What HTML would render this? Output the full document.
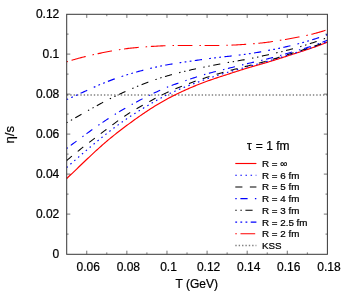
<!DOCTYPE html>
<html><head><meta charset="utf-8"><title>plot</title>
<style>
html,body{margin:0;padding:0;background:#fff;}
body{width:349px;height:293px;overflow:hidden;}
svg{display:block;will-change:transform;}
text{font-family:"Liberation Sans",sans-serif;fill:#000;stroke:#000;stroke-width:0.22px;}
</style></head><body>
<svg width="349" height="293" viewBox="0 0 349 293">
<rect width="349" height="293" fill="#fff"/>
<line x1="66.70" y1="94.95" x2="327.40" y2="94.95" stroke="#808080" stroke-width="1.5" stroke-dasharray="1.4 1.97" stroke-dashoffset="-0.15"/>
<g fill="none" stroke-linejoin="round">
<polyline points="66.70,178.50 68.01,177.27 69.32,176.03 70.63,174.79 71.94,173.55 73.25,172.30 74.56,171.05 75.87,169.80 77.18,168.54 78.49,167.29 79.80,166.03 81.11,164.78 82.42,163.53 83.73,162.28 85.04,161.03 86.35,159.78 87.66,158.54 88.97,157.30 90.28,156.07 91.59,154.84 92.90,153.62 94.21,152.41 95.52,151.20 96.83,150.00 98.14,148.81 99.45,147.63 100.76,146.46 102.07,145.30 103.38,144.15 104.69,143.01 106.00,141.89 107.31,140.77 108.62,139.67 109.93,138.59 111.24,137.51 112.55,136.45 113.86,135.39 115.17,134.35 116.48,133.32 117.79,132.29 119.10,131.28 120.41,130.27 121.72,129.27 123.03,128.27 124.34,127.28 125.65,126.30 126.96,125.32 128.27,124.35 129.58,123.38 130.89,122.42 132.20,121.47 133.51,120.51 134.82,119.57 136.13,118.63 137.44,117.70 138.75,116.78 140.06,115.86 141.37,114.95 142.68,114.05 143.99,113.16 145.30,112.27 146.61,111.40 147.92,110.54 149.23,109.68 150.54,108.84 151.85,108.00 153.16,107.18 154.47,106.36 155.78,105.56 157.09,104.76 158.40,103.98 159.71,103.20 161.02,102.44 162.33,101.68 163.64,100.94 164.95,100.21 166.26,99.48 167.57,98.77 168.88,98.07 170.19,97.38 171.50,96.70 172.81,96.03 174.12,95.37 175.43,94.72 176.74,94.07 178.05,93.44 179.36,92.81 180.67,92.19 181.98,91.58 183.29,90.98 184.60,90.38 185.91,89.79 187.22,89.21 188.53,88.63 189.84,88.06 191.15,87.50 192.46,86.94 193.77,86.39 195.08,85.85 196.39,85.31 197.71,84.78 199.02,84.26 200.33,83.74 201.64,83.23 202.95,82.73 204.26,82.24 205.57,81.75 206.88,81.27 208.19,80.80 209.50,80.34 210.81,79.88 212.12,79.43 213.43,78.98 214.74,78.54 216.05,78.11 217.36,77.67 218.67,77.24 219.98,76.82 221.29,76.39 222.60,75.97 223.91,75.54 225.22,75.12 226.53,74.70 227.84,74.27 229.15,73.85 230.46,73.42 231.77,72.99 233.08,72.56 234.39,72.14 235.70,71.71 237.01,71.29 238.32,70.87 239.63,70.45 240.94,70.03 242.25,69.62 243.56,69.21 244.87,68.81 246.18,68.40 247.49,68.01 248.80,67.62 250.11,67.23 251.42,66.85 252.73,66.47 254.04,66.10 255.35,65.72 256.66,65.35 257.97,64.98 259.28,64.60 260.59,64.23 261.90,63.86 263.21,63.48 264.52,63.10 265.83,62.72 267.14,62.33 268.45,61.94 269.76,61.54 271.07,61.14 272.38,60.74 273.69,60.33 275.00,59.92 276.31,59.51 277.62,59.10 278.93,58.68 280.24,58.26 281.55,57.84 282.86,57.42 284.17,57.00 285.48,56.58 286.79,56.16 288.10,55.74 289.41,55.32 290.72,54.91 292.03,54.49 293.34,54.07 294.65,53.65 295.96,53.23 297.27,52.81 298.58,52.39 299.89,51.96 301.20,51.54 302.51,51.11 303.82,50.68 305.13,50.24 306.44,49.81 307.75,49.36 309.06,48.92 310.37,48.47 311.68,48.02 312.99,47.56 314.30,47.09 315.61,46.62 316.92,46.15 318.23,45.67 319.54,45.18 320.85,44.68 322.16,44.18 323.47,43.67 324.78,43.16 326.09,42.63 327.40,42.10" stroke="#ff0000" stroke-width="1.15"/>
<polyline points="66.70,167.50 68.01,166.35 69.32,165.20 70.63,164.05 71.94,162.90 73.25,161.76 74.56,160.61 75.87,159.47 77.18,158.32 78.49,157.18 79.80,156.04 81.11,154.91 82.42,153.77 83.73,152.64 85.04,151.52 86.35,150.39 87.66,149.28 88.97,148.16 90.28,147.05 91.59,145.94 92.90,144.84 94.21,143.74 95.52,142.65 96.83,141.57 98.14,140.48 99.45,139.41 100.76,138.34 102.07,137.28 103.38,136.23 104.69,135.18 106.00,134.14 107.31,133.10 108.62,132.08 109.93,131.06 111.24,130.05 112.55,129.05 113.86,128.06 115.17,127.07 116.48,126.10 117.79,125.13 119.10,124.17 120.41,123.22 121.72,122.29 123.03,121.36 124.34,120.44 125.65,119.53 126.96,118.63 128.27,117.74 129.58,116.86 130.89,116.00 132.20,115.14 133.51,114.29 134.82,113.44 136.13,112.61 137.44,111.78 138.75,110.97 140.06,110.15 141.37,109.35 142.68,108.55 143.99,107.75 145.30,106.96 146.61,106.18 147.92,105.40 149.23,104.63 150.54,103.86 151.85,103.09 153.16,102.34 154.47,101.59 155.78,100.84 157.09,100.11 158.40,99.39 159.71,98.67 161.02,97.96 162.33,97.27 163.64,96.58 164.95,95.91 166.26,95.25 167.57,94.60 168.88,93.97 170.19,93.34 171.50,92.73 172.81,92.13 174.12,91.54 175.43,90.96 176.74,90.40 178.05,89.83 179.36,89.28 180.67,88.74 181.98,88.20 183.29,87.67 184.60,87.15 185.91,86.63 187.22,86.12 188.53,85.61 189.84,85.11 191.15,84.62 192.46,84.12 193.77,83.64 195.08,83.15 196.39,82.67 197.71,82.20 199.02,81.72 200.33,81.26 201.64,80.79 202.95,80.33 204.26,79.87 205.57,79.42 206.88,78.97 208.19,78.52 209.50,78.08 210.81,77.64 212.12,77.20 213.43,76.76 214.74,76.33 216.05,75.90 217.36,75.48 218.67,75.06 219.98,74.64 221.29,74.23 222.60,73.83 223.91,73.42 225.22,73.02 226.53,72.63 227.84,72.24 229.15,71.86 230.46,71.48 231.77,71.10 233.08,70.73 234.39,70.36 235.70,69.99 237.01,69.63 238.32,69.26 239.63,68.90 240.94,68.55 242.25,68.19 243.56,67.83 244.87,67.48 246.18,67.12 247.49,66.77 248.80,66.41 250.11,66.06 251.42,65.70 252.73,65.35 254.04,64.99 255.35,64.63 256.66,64.27 257.97,63.91 259.28,63.55 260.59,63.18 261.90,62.82 263.21,62.45 264.52,62.08 265.83,61.70 267.14,61.33 268.45,60.95 269.76,60.57 271.07,60.19 272.38,59.80 273.69,59.41 275.00,59.03 276.31,58.63 277.62,58.24 278.93,57.85 280.24,57.45 281.55,57.05 282.86,56.65 284.17,56.26 285.48,55.86 286.79,55.45 288.10,55.05 289.41,54.65 290.72,54.25 292.03,53.84 293.34,53.44 294.65,53.03 295.96,52.62 297.27,52.21 298.58,51.80 299.89,51.38 301.20,50.96 302.51,50.54 303.82,50.11 305.13,49.69 306.44,49.25 307.75,48.82 309.06,48.37 310.37,47.93 311.68,47.48 312.99,47.02 314.30,46.56 315.61,46.09 316.92,45.62 318.23,45.14 319.54,44.66 320.85,44.16 322.16,43.67 323.47,43.16 324.78,42.65 326.09,42.13 327.40,41.60" stroke="#0000ff" stroke-width="1.15" stroke-dasharray="1.5 3.59" stroke-dashoffset="0.1"/>
<polyline points="66.70,160.50 68.01,159.39 69.32,158.29 70.63,157.19 71.94,156.11 73.25,155.03 74.56,153.96 75.87,152.90 77.18,151.84 78.49,150.79 79.80,149.75 81.11,148.71 82.42,147.68 83.73,146.65 85.04,145.63 86.35,144.61 87.66,143.60 88.97,142.59 90.28,141.59 91.59,140.58 92.90,139.59 94.21,138.59 95.52,137.60 96.83,136.61 98.14,135.62 99.45,134.63 100.76,133.64 102.07,132.66 103.38,131.67 104.69,130.69 106.00,129.71 107.31,128.72 108.62,127.74 109.93,126.75 111.24,125.77 112.55,124.79 113.86,123.82 115.17,122.85 116.48,121.89 117.79,120.94 119.10,119.99 120.41,119.06 121.72,118.14 123.03,117.23 124.34,116.33 125.65,115.45 126.96,114.58 128.27,113.73 129.58,112.90 130.89,112.08 132.20,111.28 133.51,110.49 134.82,109.71 136.13,108.94 137.44,108.18 138.75,107.43 140.06,106.69 141.37,105.95 142.68,105.22 143.99,104.50 145.30,103.78 146.61,103.06 147.92,102.35 149.23,101.64 150.54,100.93 151.85,100.23 153.16,99.53 154.47,98.83 155.78,98.14 157.09,97.46 158.40,96.78 159.71,96.11 161.02,95.44 162.33,94.79 163.64,94.14 164.95,93.51 166.26,92.88 167.57,92.27 168.88,91.66 170.19,91.07 171.50,90.49 172.81,89.91 174.12,89.35 175.43,88.79 176.74,88.24 178.05,87.70 179.36,87.17 180.67,86.65 181.98,86.13 183.29,85.62 184.60,85.12 185.91,84.62 187.22,84.12 188.53,83.64 189.84,83.15 191.15,82.68 192.46,82.20 193.77,81.73 195.08,81.27 196.39,80.81 197.71,80.36 199.02,79.91 200.33,79.47 201.64,79.03 202.95,78.59 204.26,78.16 205.57,77.74 206.88,77.31 208.19,76.90 209.50,76.48 210.81,76.08 212.12,75.67 213.43,75.27 214.74,74.87 216.05,74.48 217.36,74.09 218.67,73.71 219.98,73.33 221.29,72.95 222.60,72.57 223.91,72.20 225.22,71.83 226.53,71.47 227.84,71.11 229.15,70.75 230.46,70.39 231.77,70.03 233.08,69.68 234.39,69.33 235.70,68.99 237.01,68.64 238.32,68.30 239.63,67.96 240.94,67.63 242.25,67.29 243.56,66.96 244.87,66.63 246.18,66.30 247.49,65.97 248.80,65.65 250.11,65.33 251.42,65.00 252.73,64.68 254.04,64.36 255.35,64.03 256.66,63.70 257.97,63.37 259.28,63.04 260.59,62.70 261.90,62.36 263.21,62.01 264.52,61.66 265.83,61.30 267.14,60.93 268.45,60.55 269.76,60.17 271.07,59.78 272.38,59.39 273.69,58.99 275.00,58.58 276.31,58.18 277.62,57.76 278.93,57.35 280.24,56.94 281.55,56.52 282.86,56.10 284.17,55.69 285.48,55.27 286.79,54.86 288.10,54.45 289.41,54.04 290.72,53.63 292.03,53.23 293.34,52.82 294.65,52.42 295.96,52.02 297.27,51.62 298.58,51.21 299.89,50.81 301.20,50.40 302.51,49.99 303.82,49.58 305.13,49.16 306.44,48.74 307.75,48.32 309.06,47.89 310.37,47.46 311.68,47.02 312.99,46.58 314.30,46.12 315.61,45.67 316.92,45.20 318.23,44.73 319.54,44.24 320.85,43.75 322.16,43.25 323.47,42.74 324.78,42.22 326.09,41.69 327.40,41.15" stroke="#000000" stroke-width="1.05" stroke-dasharray="7.1 7.46" stroke-dashoffset="0.3"/>
<polyline points="66.70,148.50 68.01,147.51 69.32,146.52 70.63,145.53 71.94,144.54 73.25,143.56 74.56,142.57 75.87,141.59 77.18,140.61 78.49,139.64 79.80,138.66 81.11,137.69 82.42,136.72 83.73,135.76 85.04,134.80 86.35,133.84 87.66,132.89 88.97,131.94 90.28,131.00 91.59,130.06 92.90,129.13 94.21,128.20 95.52,127.28 96.83,126.36 98.14,125.45 99.45,124.55 100.76,123.65 102.07,122.76 103.38,121.88 104.69,121.00 106.00,120.13 107.31,119.27 108.62,118.42 109.93,117.57 111.24,116.73 112.55,115.90 113.86,115.08 115.17,114.26 116.48,113.46 117.79,112.65 119.10,111.86 120.41,111.07 121.72,110.29 123.03,109.52 124.34,108.75 125.65,108.00 126.96,107.24 128.27,106.50 129.58,105.76 130.89,105.02 132.20,104.30 133.51,103.58 134.82,102.86 136.13,102.15 137.44,101.45 138.75,100.75 140.06,100.06 141.37,99.38 142.68,98.70 143.99,98.03 145.30,97.36 146.61,96.70 147.92,96.05 149.23,95.40 150.54,94.75 151.85,94.12 153.16,93.49 154.47,92.86 155.78,92.25 157.09,91.64 158.40,91.04 159.71,90.45 161.02,89.87 162.33,89.30 163.64,88.73 164.95,88.18 166.26,87.64 167.57,87.11 168.88,86.58 170.19,86.07 171.50,85.57 172.81,85.07 174.12,84.59 175.43,84.11 176.74,83.64 178.05,83.17 179.36,82.71 180.67,82.25 181.98,81.80 183.29,81.36 184.60,80.91 185.91,80.47 187.22,80.03 188.53,79.60 189.84,79.16 191.15,78.73 192.46,78.30 193.77,77.87 195.08,77.45 196.39,77.03 197.71,76.61 199.02,76.20 200.33,75.80 201.64,75.40 202.95,75.00 204.26,74.61 205.57,74.23 206.88,73.86 208.19,73.49 209.50,73.13 210.81,72.77 212.12,72.42 213.43,72.08 214.74,71.74 216.05,71.41 217.36,71.07 218.67,70.74 219.98,70.42 221.29,70.09 222.60,69.77 223.91,69.45 225.22,69.12 226.53,68.80 227.84,68.48 229.15,68.15 230.46,67.82 231.77,67.50 233.08,67.17 234.39,66.84 235.70,66.51 237.01,66.19 238.32,65.86 239.63,65.54 240.94,65.21 242.25,64.89 243.56,64.57 244.87,64.25 246.18,63.94 247.49,63.63 248.80,63.32 250.11,63.01 251.42,62.71 252.73,62.41 254.04,62.10 255.35,61.80 256.66,61.50 257.97,61.19 259.28,60.89 260.59,60.58 261.90,60.27 263.21,59.95 264.52,59.63 265.83,59.31 267.14,58.98 268.45,58.64 269.76,58.30 271.07,57.95 272.38,57.60 273.69,57.24 275.00,56.88 276.31,56.52 277.62,56.15 278.93,55.79 280.24,55.41 281.55,55.04 282.86,54.67 284.17,54.29 285.48,53.92 286.79,53.54 288.10,53.17 289.41,52.80 290.72,52.42 292.03,52.05 293.34,51.67 294.65,51.30 295.96,50.92 297.27,50.54 298.58,50.16 299.89,49.77 301.20,49.38 302.51,48.99 303.82,48.59 305.13,48.19 306.44,47.78 307.75,47.37 309.06,46.95 310.37,46.53 311.68,46.10 312.99,45.66 314.30,45.22 315.61,44.76 316.92,44.30 318.23,43.83 319.54,43.35 320.85,42.86 322.16,42.36 323.47,41.85 324.78,41.33 326.09,40.79 327.40,40.25" stroke="#0000ff" stroke-width="1.1" stroke-dasharray="1.4 3.7 7.2 7.32" stroke-dashoffset="0"/>
<polyline points="66.70,122.70 68.01,121.96 69.32,121.22 70.63,120.48 71.94,119.74 73.25,118.99 74.56,118.24 75.87,117.50 77.18,116.75 78.49,116.00 79.80,115.25 81.11,114.51 82.42,113.76 83.73,113.01 85.04,112.27 86.35,111.53 87.66,110.79 88.97,110.05 90.28,109.31 91.59,108.58 92.90,107.85 94.21,107.13 95.52,106.41 96.83,105.69 98.14,104.98 99.45,104.27 100.76,103.57 102.07,102.87 103.38,102.18 104.69,101.49 106.00,100.81 107.31,100.14 108.62,99.48 109.93,98.82 111.24,98.17 112.55,97.52 113.86,96.88 115.17,96.25 116.48,95.62 117.79,95.00 119.10,94.39 120.41,93.78 121.72,93.17 123.03,92.57 124.34,91.98 125.65,91.39 126.96,90.81 128.27,90.23 129.58,89.65 130.89,89.08 132.20,88.52 133.51,87.96 134.82,87.41 136.13,86.86 137.44,86.32 138.75,85.79 140.06,85.26 141.37,84.73 142.68,84.22 143.99,83.71 145.30,83.21 146.61,82.71 147.92,82.23 149.23,81.75 150.54,81.27 151.85,80.81 153.16,80.35 154.47,79.90 155.78,79.45 157.09,79.02 158.40,78.59 159.71,78.16 161.02,77.75 162.33,77.34 163.64,76.94 164.95,76.54 166.26,76.16 167.57,75.78 168.88,75.40 170.19,75.03 171.50,74.67 172.81,74.32 174.12,73.97 175.43,73.63 176.74,73.29 178.05,72.96 179.36,72.63 180.67,72.31 181.98,71.99 183.29,71.67 184.60,71.36 185.91,71.06 187.22,70.75 188.53,70.45 189.84,70.16 191.15,69.86 192.46,69.57 193.77,69.29 195.08,69.00 196.39,68.72 197.71,68.44 199.02,68.16 200.33,67.89 201.64,67.61 202.95,67.34 204.26,67.07 205.57,66.81 206.88,66.54 208.19,66.28 209.50,66.02 210.81,65.76 212.12,65.50 213.43,65.24 214.74,64.99 216.05,64.74 217.36,64.49 218.67,64.24 219.98,63.99 221.29,63.75 222.60,63.51 223.91,63.27 225.22,63.04 226.53,62.81 227.84,62.58 229.15,62.35 230.46,62.13 231.77,61.90 233.08,61.68 234.39,61.46 235.70,61.24 237.01,61.01 238.32,60.79 239.63,60.56 240.94,60.34 242.25,60.10 243.56,59.87 244.87,59.63 246.18,59.39 247.49,59.14 248.80,58.89 250.11,58.63 251.42,58.37 252.73,58.10 254.04,57.83 255.35,57.56 256.66,57.28 257.97,57.00 259.28,56.72 260.59,56.43 261.90,56.14 263.21,55.85 264.52,55.56 265.83,55.27 267.14,54.97 268.45,54.68 269.76,54.38 271.07,54.09 272.38,53.79 273.69,53.49 275.00,53.19 276.31,52.88 277.62,52.58 278.93,52.27 280.24,51.95 281.55,51.64 282.86,51.32 284.17,50.99 285.48,50.66 286.79,50.33 288.10,49.99 289.41,49.65 290.72,49.30 292.03,48.95 293.34,48.59 294.65,48.22 295.96,47.86 297.27,47.48 298.58,47.10 299.89,46.72 301.20,46.33 302.51,45.94 303.82,45.54 305.13,45.14 306.44,44.73 307.75,44.32 309.06,43.91 310.37,43.49 311.68,43.06 312.99,42.63 314.30,42.19 315.61,41.76 316.92,41.31 318.23,40.86 319.54,40.41 320.85,39.95 322.16,39.49 323.47,39.02 324.78,38.55 326.09,38.08 327.40,37.60" stroke="#000000" stroke-width="1.05" stroke-dasharray="1.4 3.7 1.4 3.6 7.2 7.47" stroke-dashoffset="0.3"/>
<polyline points="66.70,99.55 68.01,98.99 69.32,98.41 70.63,97.84 71.94,97.26 73.25,96.67 74.56,96.08 75.87,95.49 77.18,94.89 78.49,94.29 79.80,93.69 81.11,93.09 82.42,92.49 83.73,91.89 85.04,91.29 86.35,90.68 87.66,90.08 88.97,89.49 90.28,88.89 91.59,88.30 92.90,87.71 94.21,87.12 95.52,86.54 96.83,85.97 98.14,85.40 99.45,84.83 100.76,84.27 102.07,83.72 103.38,83.18 104.69,82.65 106.00,82.12 107.31,81.60 108.62,81.09 109.93,80.60 111.24,80.11 112.55,79.63 113.86,79.15 115.17,78.69 116.48,78.23 117.79,77.78 119.10,77.34 120.41,76.90 121.72,76.48 123.03,76.05 124.34,75.64 125.65,75.22 126.96,74.82 128.27,74.42 129.58,74.02 130.89,73.63 132.20,73.25 133.51,72.87 134.82,72.49 136.13,72.12 137.44,71.75 138.75,71.39 140.06,71.04 141.37,70.68 142.68,70.34 143.99,70.00 145.30,69.66 146.61,69.33 147.92,69.00 149.23,68.68 150.54,68.36 151.85,68.04 153.16,67.74 154.47,67.43 155.78,67.14 157.09,66.85 158.40,66.56 159.71,66.28 161.02,66.01 162.33,65.74 163.64,65.48 164.95,65.23 166.26,64.98 167.57,64.74 168.88,64.51 170.19,64.28 171.50,64.06 172.81,63.84 174.12,63.63 175.43,63.42 176.74,63.22 178.05,63.02 179.36,62.82 180.67,62.63 181.98,62.43 183.29,62.24 184.60,62.05 185.91,61.86 187.22,61.67 188.53,61.48 189.84,61.29 191.15,61.10 192.46,60.91 193.77,60.71 195.08,60.52 196.39,60.33 197.71,60.15 199.02,59.96 200.33,59.77 201.64,59.59 202.95,59.41 204.26,59.23 205.57,59.05 206.88,58.88 208.19,58.71 209.50,58.54 210.81,58.37 212.12,58.21 213.43,58.05 214.74,57.89 216.05,57.73 217.36,57.57 218.67,57.42 219.98,57.27 221.29,57.12 222.60,56.97 223.91,56.82 225.22,56.67 226.53,56.52 227.84,56.37 229.15,56.22 230.46,56.07 231.77,55.93 233.08,55.78 234.39,55.62 235.70,55.47 237.01,55.32 238.32,55.16 239.63,55.00 240.94,54.83 242.25,54.67 243.56,54.50 244.87,54.32 246.18,54.14 247.49,53.96 248.80,53.77 250.11,53.57 251.42,53.37 252.73,53.17 254.04,52.96 255.35,52.75 256.66,52.53 257.97,52.31 259.28,52.09 260.59,51.86 261.90,51.63 263.21,51.39 264.52,51.15 265.83,50.91 267.14,50.67 268.45,50.42 269.76,50.17 271.07,49.92 272.38,49.67 273.69,49.41 275.00,49.15 276.31,48.88 277.62,48.61 278.93,48.34 280.24,48.06 281.55,47.78 282.86,47.50 284.17,47.21 285.48,46.91 286.79,46.62 288.10,46.31 289.41,46.00 290.72,45.69 292.03,45.37 293.34,45.05 294.65,44.72 295.96,44.38 297.27,44.05 298.58,43.70 299.89,43.35 301.20,42.99 302.51,42.63 303.82,42.27 305.13,41.89 306.44,41.52 307.75,41.13 309.06,40.74 310.37,40.35 311.68,39.94 312.99,39.54 314.30,39.12 315.61,38.70 316.92,38.28 318.23,37.85 319.54,37.41 320.85,36.97 322.16,36.52 323.47,36.06 324.78,35.60 326.09,35.13 327.40,34.65" stroke="#0000ff" stroke-width="1.15" stroke-dasharray="1.8 3.3 1.8 3.3 1.8 3.4 7.3 7.15" stroke-dashoffset="0.2"/>
<polyline points="66.70,61.85 68.01,61.43 69.32,61.01 70.63,60.61 71.94,60.21 73.25,59.82 74.56,59.43 75.87,59.06 77.18,58.69 78.49,58.33 79.80,57.97 81.11,57.62 82.42,57.28 83.73,56.95 85.04,56.62 86.35,56.30 87.66,55.98 88.97,55.67 90.28,55.36 91.59,55.06 92.90,54.77 94.21,54.48 95.52,54.19 96.83,53.91 98.14,53.64 99.45,53.36 100.76,53.09 102.07,52.83 103.38,52.57 104.69,52.31 106.00,52.06 107.31,51.80 108.62,51.56 109.93,51.31 111.24,51.07 112.55,50.83 113.86,50.60 115.17,50.37 116.48,50.15 117.79,49.93 119.10,49.72 120.41,49.51 121.72,49.31 123.03,49.12 124.34,48.94 125.65,48.76 126.96,48.59 128.27,48.42 129.58,48.27 130.89,48.12 132.20,47.98 133.51,47.85 134.82,47.72 136.13,47.60 137.44,47.48 138.75,47.37 140.06,47.26 141.37,47.16 142.68,47.06 143.99,46.96 145.30,46.86 146.61,46.77 147.92,46.68 149.23,46.59 150.54,46.51 151.85,46.42 153.16,46.34 154.47,46.26 155.78,46.19 157.09,46.12 158.40,46.05 159.71,45.98 161.02,45.92 162.33,45.87 163.64,45.81 164.95,45.76 166.26,45.72 167.57,45.68 168.88,45.65 170.19,45.62 171.50,45.59 172.81,45.57 174.12,45.56 175.43,45.54 176.74,45.53 178.05,45.52 179.36,45.51 180.67,45.51 181.98,45.50 183.29,45.50 184.60,45.50 185.91,45.50 187.22,45.50 188.53,45.50 189.84,45.50 191.15,45.50 192.46,45.50 193.77,45.50 195.08,45.50 196.39,45.50 197.71,45.50 199.02,45.50 200.33,45.50 201.64,45.50 202.95,45.50 204.26,45.50 205.57,45.50 206.88,45.50 208.19,45.50 209.50,45.50 210.81,45.50 212.12,45.50 213.43,45.50 214.74,45.49 216.05,45.48 217.36,45.48 218.67,45.46 219.98,45.45 221.29,45.43 222.60,45.41 223.91,45.38 225.22,45.35 226.53,45.32 227.84,45.28 229.15,45.23 230.46,45.18 231.77,45.13 233.08,45.07 234.39,45.00 235.70,44.94 237.01,44.86 238.32,44.79 239.63,44.71 240.94,44.63 242.25,44.54 243.56,44.45 244.87,44.36 246.18,44.27 247.49,44.18 248.80,44.08 250.11,43.98 251.42,43.88 252.73,43.78 254.04,43.67 255.35,43.56 256.66,43.44 257.97,43.32 259.28,43.20 260.59,43.06 261.90,42.93 263.21,42.78 264.52,42.63 265.83,42.48 267.14,42.31 268.45,42.14 269.76,41.96 271.07,41.78 272.38,41.58 273.69,41.39 275.00,41.18 276.31,40.97 277.62,40.76 278.93,40.54 280.24,40.32 281.55,40.10 282.86,39.88 284.17,39.65 285.48,39.42 286.79,39.19 288.10,38.96 289.41,38.73 290.72,38.49 292.03,38.26 293.34,38.03 294.65,37.79 295.96,37.55 297.27,37.30 298.58,37.05 299.89,36.80 301.20,36.54 302.51,36.28 303.82,36.01 305.13,35.73 306.44,35.45 307.75,35.16 309.06,34.86 310.37,34.56 311.68,34.24 312.99,33.92 314.30,33.58 315.61,33.24 316.92,32.88 318.23,32.52 319.54,32.14 320.85,31.75 322.16,31.35 323.47,30.93 324.78,30.50 326.09,30.06 327.40,29.60" stroke="#ff0000" stroke-width="1.1" stroke-dasharray="1.5 3.7 14.7 7.0" stroke-dashoffset="0.15"/>
</g>
<path d="M86.75 254.30v-3.60M86.75 14.30v3.60M106.81 254.30v-1.90M106.81 14.30v1.90M126.86 254.30v-3.60M126.86 14.30v3.60M146.92 254.30v-1.90M146.92 14.30v1.90M166.97 254.30v-3.60M166.97 14.30v3.60M187.02 254.30v-1.90M187.02 14.30v1.90M207.08 254.30v-3.60M207.08 14.30v3.60M227.13 254.30v-1.90M227.13 14.30v1.90M247.18 254.30v-3.60M247.18 14.30v3.60M267.24 254.30v-1.90M267.24 14.30v1.90M287.29 254.30v-3.60M287.29 14.30v3.60M307.35 254.30v-1.90M307.35 14.30v1.90M66.70 234.10h1.90M327.40 234.10h-1.90M66.70 214.10h3.60M327.40 214.10h-3.60M66.70 194.10h1.90M327.40 194.10h-1.90M66.70 174.10h3.60M327.40 174.10h-3.60M66.70 154.10h1.90M327.40 154.10h-1.90M66.70 134.10h3.60M327.40 134.10h-3.60M66.70 114.10h1.90M327.40 114.10h-1.90M66.70 94.10h3.60M327.40 94.10h-3.60M66.70 74.10h1.90M327.40 74.10h-1.90M66.70 54.10h3.60M327.40 54.10h-3.60M66.70 34.10h1.90M327.40 34.10h-1.90" stroke="#000" stroke-width="0.55" fill="none"/>
<rect x="66.70" y="14.30" width="260.70" height="240.00" fill="none" stroke="#3a3a3a" stroke-width="1.02"/>
<text x="59.3" y="258.10" font-size="12" text-anchor="end">0</text>
<text x="59.3" y="218.10" font-size="12" text-anchor="end">0.02</text>
<text x="59.3" y="178.10" font-size="12" text-anchor="end">0.04</text>
<text x="59.3" y="138.10" font-size="12" text-anchor="end">0.06</text>
<text x="59.3" y="98.10" font-size="12" text-anchor="end">0.08</text>
<text x="59.3" y="58.10" font-size="12" text-anchor="end">0.1</text>
<text x="59.3" y="18.10" font-size="12" text-anchor="end">0.12</text>
<text x="88.25" y="270.5" font-size="12" text-anchor="middle">0.06</text>
<text x="128.36" y="270.5" font-size="12" text-anchor="middle">0.08</text>
<text x="168.47" y="270.5" font-size="12" text-anchor="middle">0.1</text>
<text x="208.58" y="270.5" font-size="12" text-anchor="middle">0.12</text>
<text x="248.68" y="270.5" font-size="12" text-anchor="middle">0.14</text>
<text x="288.79" y="270.5" font-size="12" text-anchor="middle">0.16</text>
<text x="328.90" y="270.5" font-size="12" text-anchor="middle">0.18</text>
<text x="196.8" y="287.8" font-size="12" text-anchor="middle">T (GeV)</text>
<text transform="translate(13.85,134.7) rotate(-90)" font-size="13.2" text-anchor="middle">η/s</text>
<text x="268.2" y="150.45" font-size="12" text-anchor="middle">τ<tspan dx="0.8"> = 1 fm</tspan></text>
<line x1="235.3" y1="163.50" x2="256.4" y2="163.50" stroke="#ff0000" stroke-width="1.15"/>
<text x="262" y="167.00" font-size="9.8">R = ∞</text>
<line x1="235.3" y1="175.21" x2="256.4" y2="175.21" stroke="#0000ff" stroke-width="1.15" stroke-dasharray="1.5 3.59"/>
<text x="262" y="178.71" font-size="9.8">R = 6 fm</text>
<line x1="235.3" y1="186.92" x2="256.4" y2="186.92" stroke="#000000" stroke-width="1.05" stroke-dasharray="7.1 7.46"/>
<text x="262" y="190.42" font-size="9.8">R = 5 fm</text>
<line x1="235.3" y1="198.63" x2="256.4" y2="198.63" stroke="#0000ff" stroke-width="1.1" stroke-dasharray="1.4 3.7 7.2 7.32"/>
<text x="262" y="202.13" font-size="9.8">R = 4 fm</text>
<line x1="235.3" y1="210.34" x2="256.4" y2="210.34" stroke="#000000" stroke-width="1.05" stroke-dasharray="1.4 3.7 1.4 3.6 7.2 7.47"/>
<text x="262" y="213.84" font-size="9.8">R = 3 fm</text>
<line x1="235.3" y1="222.05" x2="256.4" y2="222.05" stroke="#0000ff" stroke-width="1.15" stroke-dasharray="1.8 3.3 1.8 3.3 1.8 3.4 7.3 7.15"/>
<text x="262" y="225.55" font-size="9.8">R = 2.5 fm</text>
<line x1="235.3" y1="233.76" x2="256.4" y2="233.76" stroke="#ff0000" stroke-width="1.1" stroke-dasharray="1.5 3.7 14.7 7.0"/>
<text x="262" y="237.26" font-size="9.8">R = 2 fm</text>
<line x1="235.3" y1="245.47" x2="256.4" y2="245.47" stroke="#808080" stroke-width="1.5" stroke-dasharray="1.4 1.97"/>
<text x="262" y="248.97" font-size="9.8">KSS</text>
</svg>
</body></html>
